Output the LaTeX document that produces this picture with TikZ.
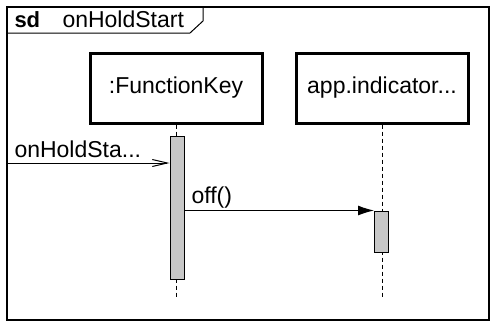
\documentclass[tikz,border=0pt]{standalone}
\usepackage{fontspec}
\setmainfont{Liberation Sans}
\usetikzlibrary{arrows.meta}

\begin{document}
\begin{tikzpicture}[x=1pt, y=-1pt, line width=1pt,
    every node/.style={font=\fontsize{23}{27}\selectfont},
    obj/.style={draw, line width=3pt, minimum width=172pt, minimum height=70pt, inner sep=0pt},
    act/.style={draw, fill=black!22, line width=1pt, minimum width=14pt, inner sep=0pt},
    life/.style={dash pattern=on 4pt off 3pt},
    lbl/.style={anchor=base west, inner sep=0pt}]
	\useasboundingbox (0,0) rectangle (497,324);
	% 框架
	\draw[line width=2pt] (7,7) rectangle (489,320);
	\draw (7,33) -- (190,33) -- (203,21) -- (203,7);
	\node[lbl, font=\fontsize{22}{26}\selectfont\bfseries] (sd) at (14,27) {sd};
	\node[lbl] (title) at (62,27) {onHoldStart};
	
	% 对象与生命线
	\node[obj] (fk) at (176,88) {:FunctionKey};
	\node[obj] (ind) at (382,88) {app.indicator...};
	\coordinate (fkend) at (176,298);
	\coordinate (indend) at (382,298);
	\draw[life] (fk.south) -- (fkend);
	\draw[life] (ind.south) -- (indend);
	
	% 激活
	\node[act, minimum height=143pt] (act1) at (177,207.5) {};
	\node[act, minimum height=41pt] (act2) at (381.5,231.5) {};
	
	% 消息
	\coordinate (gate) at (7,163);
	\draw[-{Straight Barb[length=15pt, width=7pt]}] (gate) -- (gate -| act1.west);
	\node[lbl] (m1) at (14,157) {onHoldSta...};
	\draw[-{Latex[length=16pt, width=10pt]}] (act1.east |- act2.north) -- (act2.north west);
	\node[lbl] (m2) at (191,203) {off()};
\end{tikzpicture}
\end{document}
